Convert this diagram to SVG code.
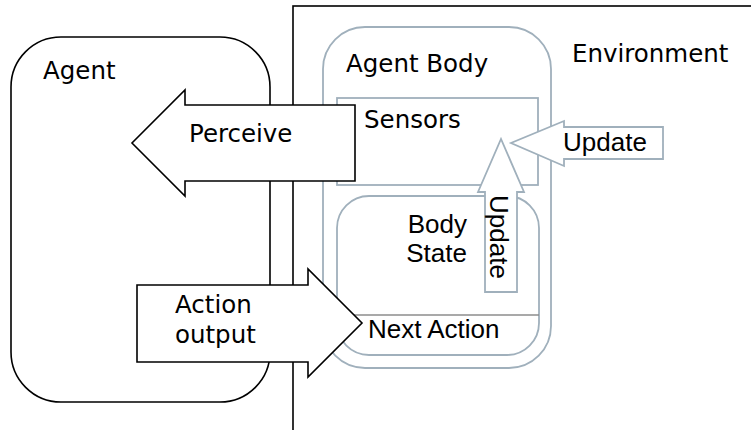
<svg xmlns="http://www.w3.org/2000/svg" width="751" height="430" viewBox="0 0 751 430">
  <style>
    .frame { fill: #ffffff; stroke: #000000; stroke-width: 1.6; }
    .body { fill: #ffffff; stroke: #a0b0bc; stroke-width: 1.8; }
    .divider { stroke: #8c8c8c; stroke-width: 1.6; }
    .blk { fill: #ffffff; stroke: #000000; stroke-width: 1.6; stroke-linejoin: miter; }
    .gblk { fill: #ffffff; stroke: #a0b0bc; stroke-width: 1.8; stroke-linejoin: miter; }
    .dv { font-family: "DejaVu Sans", Verdana, sans-serif; font-size: 24.5px; fill: #000000; }
    .ar { font-family: "Liberation Sans", Arial, sans-serif; font-size: 26px; fill: #000000; }
  </style>

  <rect width="751" height="430" fill="#ffffff"/>

  <!-- Environment frame: open to the right and bottom -->
  <g id="environment">
    <rect class="frame" x="293" y="6" width="500" height="500"/>
    <text class="dv" x="572" y="62">Environment</text>
  </g>

  <!-- Agent -->
  <g id="agent">
    <rect class="frame" x="11" y="37" width="259" height="365" rx="50" ry="50"/>
    <text class="dv" x="43" y="79">Agent</text>
  </g>

  <!-- Agent body with its sensors and state -->
  <g id="agent-body">
    <rect class="body" x="323" y="27" width="228" height="341" rx="42" ry="42"/>
    <text class="dv" x="346" y="72">Agent Body</text>
  </g>

  <g id="sensors">
    <rect class="body" x="337" y="98" width="201" height="87"/>
    <text class="dv" x="364" y="128">Sensors</text>
  </g>

  <g id="body-state">
    <rect class="body" x="337" y="196" width="202" height="159" rx="32" ry="32"/>
    <line class="divider" x1="337" y1="315" x2="539" y2="315"/>
    <text class="ar" x="467" y="233" text-anchor="end">Body</text>
    <text class="ar" x="467" y="262" text-anchor="end">State</text>
    <text class="ar" x="368" y="338">Next Action</text>
  </g>

  <!-- Block arrows -->
  <g id="connectors">
    <g id="perceive">
      <polygon class="blk" points="355,105 185,105 185,90 132,143 185,196 185,181 355,181"/>
      <text class="dv" x="189" y="142">Perceive</text>
    </g>
    <g id="action-output">
      <polygon class="blk" points="137,285 308,285 308,269 362,323 308,377 308,362 137,362"/>
      <text class="dv" x="175" y="313">Action</text>
      <text class="dv" x="175" y="343">output</text>
    </g>
    <g id="update-env">
      <polygon class="gblk" points="663,127 564,127 564,121 511,143 564,166 564,159 663,159"/>
      <text class="ar" x="563" y="151">Update</text>
    </g>
    <g id="update-state">
      <polygon class="gblk" points="485,292 485,192 478,192 501,139 524,192 517,192 517,292"/>
      <text class="ar" transform="translate(490,195) rotate(90)">Update</text>
    </g>
  </g>
</svg>
